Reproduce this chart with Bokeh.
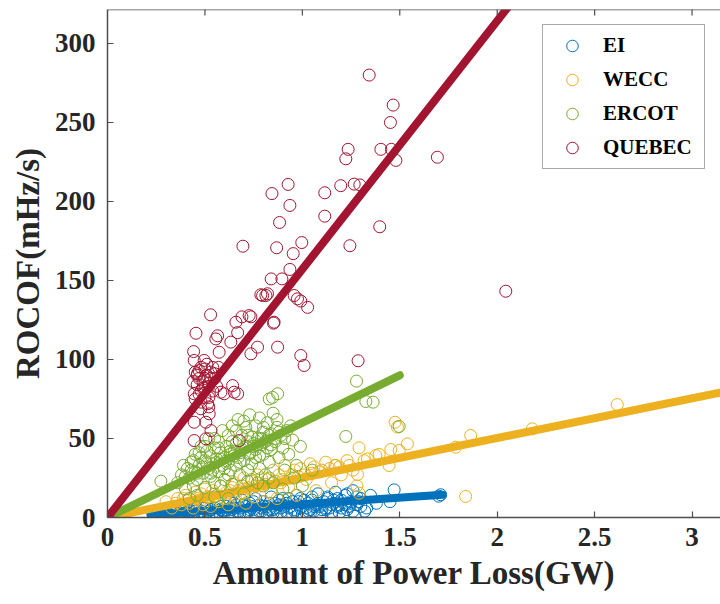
import math
from bokeh.plotting import figure
from bokeh.models import FixedTicker, Range1d, Legend, LegendItem, Span
from bokeh.embed import file_html
from bokeh.resources import INLINE

# ---------------- data ----------------
x_ticks = [0, 0.5, 1, 1.5, 2, 2.5, 3]
x_tick_labels = ["0", "0.5", "1", "1.5", "2", "2.5", "3"]
y_ticks = [0, 50, 100, 150, 200, 250, 300]
x_max = 3.146
y_max = 321.5

series_names = ["EI", "WECC", "ERCOT", "QUEBEC"]
series_colors = ["#0072BD", "#EDB120", "#77AC30", "#A2142F"]

ei_x = [0.25, 0.27, 0.29, 0.30, 0.32, 0.33, 0.35, 0.36, 0.38, 0.39, 0.40, 0.41, 0.43, 0.44, 0.45, 0.46,
        0.48, 0.49, 0.50, 0.51, 0.52, 0.54, 0.55, 0.56, 0.57, 0.58, 0.60, 0.61, 0.62, 0.63, 0.64, 0.66,
        0.67, 0.68, 0.69, 0.70, 0.71, 0.72, 0.73, 0.75, 0.76, 0.77, 0.78, 0.79, 0.80, 0.81, 0.82, 0.84,
        0.85, 0.86, 0.87, 0.88, 0.89, 0.90, 0.92, 0.93, 0.94, 0.95, 0.96, 0.97, 0.98, 1.00, 1.01, 1.02,
        1.03, 1.05, 1.06, 1.07, 1.08, 1.10, 1.11, 1.12, 1.13, 1.15, 1.16, 1.17, 1.18, 1.20, 1.21, 1.22,
        1.23, 1.25, 1.26, 1.27, 1.28, 1.30, 1.32, 1.38, 1.45, 1.471, 1.70, 1.71,
        0.31, 0.37, 0.42, 0.47, 0.53, 0.59, 0.65, 0.74, 0.83, 0.91, 0.99, 1.04, 1.09, 1.14, 1.19, 1.24,
        0.26, 0.28, 0.31, 0.34, 0.37, 0.40, 0.42, 0.45, 0.47, 0.50, 0.53, 0.55, 0.58, 0.60, 0.63, 0.65,
        0.68, 0.70, 0.73, 0.75, 0.78, 0.80, 0.83, 0.85, 0.88, 0.90, 0.93, 0.95, 0.98, 1.00, 1.03, 1.05,
        1.08, 1.10, 1.13, 1.15, 1.18, 1.20, 1.23, 1.25, 1.28, 1.30,
        0.33, 0.36, 0.39, 0.44, 0.48, 0.52, 0.57, 0.61, 0.64, 0.67, 0.71, 0.74, 0.79, 0.82, 0.86, 0.89,
        0.92, 0.96, 0.99, 1.02, 1.06, 1.09, 1.12, 1.16, 1.19, 1.22, 1.26, 1.29, 1.33, 1.35]
ei_y = [1, 3, 2, 4, 1, 3, 5, 2, 4, 1, 6, 3, 2, 5, 7, 1,
        4, 6, 2, 8, 4, 3, 6, 1, 9, 5, 3, 7, 2, 10, 5, 8,
        3, 6, 11, 1, 7, 4, 9, 5, 12, 2, 8, 6, 10, 3, 7, 13,
        5, 9, 1, 11, 6, 8, 3, 12, 7, 10, 4, 14, 8, 2, 11, 6,
        9, 13, 4, 8, 15, 1, 10, 6, 12, 3, 9, 16, 7, 11, 2, 14,
        5, 10, 17, 1, 8, 12, 4, 9, 10, 17.5, 13.5, 14.4,
        2, 3, 4, 3, 5, 4, 6, 6, 5, 7, 6, 5, 7, 6, 8, 7,
        2, 1, 3, 4, 2, 3, 5, 4, 2, 6, 5, 2, 7, 4, 6, 9,
        3, 8, 5, 10, 4, 7, 9, 3, 8, 12, 6, 2, 10, 7, 4, 11,
        9, 5, 13, 8, 12, 6, 15, 9, 13, 7,
        0.5, 1.5, 2.5, 1, 3, 1.5, 3.5, 5, 1, 4, 2.5, 7, 4, 1.5, 6, 3.5,
        9, 5, 12, 3, 7, 2, 5, 11, 3, 8, 4, 10, 6, 14]

wecc_x = [0.30, 0.33, 0.36, 0.38, 0.40, 0.42, 0.44, 0.45, 0.47, 0.49, 0.50, 0.52, 0.53, 0.55, 0.57, 0.58,
          0.60, 0.62, 0.63, 0.65, 0.66, 0.68, 0.70, 0.71, 0.73, 0.75, 0.77, 0.78, 0.80, 0.82, 0.84, 0.85,
          0.87, 0.89, 0.91, 0.93, 0.95, 0.97, 0.99, 1.02, 1.04, 1.07, 1.09, 1.12, 1.15, 1.17, 1.20, 1.23,
          1.26, 1.28, 1.476, 1.488, 1.864, 1.787, 1.539, 1.291, 1.454, 1.497, 1.394, 1.334, 1.445, 1.167,
          1.283, 1.291, 1.838, 2.616, 2.18, 1.377, 1.317,
          0.35, 0.41, 0.46, 0.51, 0.56, 0.61, 0.67, 0.72, 0.76, 0.81, 0.86, 0.90, 0.94, 0.98, 1.01, 1.05,
          1.10, 1.14, 1.19, 1.24, 0.39, 0.48, 0.54, 0.64, 0.69, 0.74, 0.79, 0.88, 0.96, 1.06]
wecc_y = [10, 6, 12, 8, 14, 9, 6, 16, 11, 8, 18, 13, 7, 15, 10, 20,
          12, 8, 17, 22, 11, 15, 25, 9, 18, 13, 27, 20, 10, 24, 16, 30,
          12, 22, 33, 19, 27, 14, 31, 24, 34, 17, 29, 35, 22, 33, 27, 36,
          30, 20, 60.3, 57.2, 51.9, 44.5, 46.6, 44.1, 43.0, 42.4, 39.9, 37.1, 32.9, 32.9,
          27.2, 15.4, 13.3, 71.5, 56.1, 39.2, 36.0,
          9, 11, 12, 13, 14, 16, 17, 19, 20, 21, 23, 24, 25, 26, 27, 28,
          30, 31, 32, 33, 12, 15, 17, 19, 20, 23, 25, 27, 30, 32]

ercot_x = [0.36, 0.38, 0.40, 0.41, 0.42, 0.43, 0.44, 0.45, 0.45, 0.39,
           0.46, 0.47, 0.48, 0.48, 0.49, 0.50, 0.50, 0.51, 0.52, 0.52, 0.53, 0.53, 0.54, 0.55, 0.55,
           0.56, 0.57, 0.57, 0.58, 0.59, 0.59, 0.60, 0.60, 0.61, 0.62, 0.62, 0.63, 0.63, 0.64, 0.64, 0.65,
           0.66, 0.66, 0.67, 0.68, 0.68, 0.69, 0.70, 0.70, 0.71, 0.72, 0.72, 0.73, 0.73, 0.74, 0.74, 0.75,
           0.76, 0.76, 0.77, 0.78, 0.78, 0.79, 0.80, 0.80, 0.81, 0.82, 0.82, 0.83, 0.84, 0.84, 0.85, 0.85,
           0.86, 0.87, 0.88, 0.89, 0.90, 0.91, 0.92, 0.93, 0.95, 0.97, 0.99, 0.96,
           0.274, 0.83, 0.873, 0.847, 1.278, 1.326, 1.363, 1.497, 1.223,
           0.58, 0.72, 0.77, 0.83, 0.80, 0.42, 0.46, 1.00, 1.05, 0.62, 0.70, 0.55, 0.90,
           0.40, 0.43, 0.46, 0.49, 0.51, 0.54, 0.56, 0.58, 0.61, 0.63, 0.65, 0.67, 0.69, 0.71, 0.73, 0.75,
           0.77, 0.79, 0.81, 0.83, 0.86, 0.88, 0.44, 0.47, 0.53, 0.57, 0.60, 0.64, 0.68, 0.72, 0.76, 0.80,
           0.84, 0.87, 0.91, 0.94, 0.50, 0.55, 0.62, 0.66, 0.70, 0.74, 0.78, 0.82]
ercot_y = [22, 27, 18, 31, 25, 35, 20, 29, 40, 33,
           24, 33, 38, 45, 28, 36, 19, 42, 31, 50, 26, 39, 34, 44, 22,
           37, 29, 48, 41, 33, 55, 38, 24, 45, 35, 52, 30, 42, 58, 21, 39,
           47, 33, 62, 41, 27, 52, 44, 36, 57, 30, 48, 40, 65, 51, 24, 45,
           38, 58, 50, 31, 63, 46, 54, 40, 27, 49, 60, 35, 53, 43, 66, 22,
           48, 57, 38, 52, 44, 30, 55, 40, 49, 33, 45, 25,
           23, 75, 78.3, 76, 86.3, 73.4, 73, 57.6, 51.3,
           20, 23, 22, 25, 20, 12, 14, 20, 30, 12, 15, 13, 18,
           26, 30, 28, 32, 34, 30, 35, 37, 36, 40, 42, 38, 43, 45, 41, 47,
           46, 50, 48, 52, 50, 54, 36, 41, 28, 44, 31, 48, 35, 52, 43, 57,
           46, 62, 50, 58, 45, 50, 27, 55, 61, 34, 39, 44]

quebec_x = [1.343, 1.466, 1.452, 1.693, 1.403, 1.457, 1.48, 1.235, 1.223, 1.197, 1.266, 1.295, 1.115, 1.115,
            1.397, 1.244, 0.927, 0.844, 0.936, 0.883, 0.695, 0.868, 0.997, 0.953, 0.936, 0.84, 0.895,
            0.796, 0.813, 0.958, 0.992, 1.027, 0.529, 0.69, 0.736, 0.852, 0.454, 0.565, 0.668, 2.044,
            1.286, 0.787, 0.821, 0.975, 1.009, 0.992, 0.727, 0.659, 0.855, 0.556, 0.633, 0.77, 0.873,
            0.736, 0.442, 0.573, 0.445, 0.496, 0.462,
            0.47, 0.49, 0.51, 0.53, 0.46, 0.50, 0.52, 0.55, 0.48, 0.44, 0.50, 0.54, 0.47, 0.52, 0.56, 0.45,
            0.642, 0.599, 0.668, 0.445, 0.514, 0.479, 0.522, 0.445, 0.505, 0.531, 0.445, 0.505, 0.676,
            0.582, 0.65, 0.0,
            0.46, 0.48, 0.50, 0.52, 0.54, 0.47, 0.49, 0.51, 0.53, 0.45, 0.55, 0.50, 0.48, 0.52, 0.57]
quebec_y = [280, 261, 250, 228, 233, 233, 226, 233, 227, 210, 211, 210.5, 205.5, 190.7,
            184, 172, 210.8, 205, 197.5, 186.7, 171.7, 170.7, 174, 167, 157, 151, 151,
            140.5, 140.5, 140.5, 137, 133, 128.3, 127, 127, 123, 116.6, 115, 117, 143.2,
            99.2, 141, 141.6, 138.4, 96.2, 102.5, 127.8, 123.6, 123.6, 113, 111, 107.8, 107.8,
            103.6, 105, 104.6, 99.4, 99.4, 91,
            88, 86, 90, 92, 84, 82, 85, 88, 80, 86, 94, 80, 93, 76, 83, 75,
            83.5, 78.3, 78.3, 78.3, 72, 68.8, 65.6, 60.3, 60.3, 55, 48.7, 49.8, 48.7,
            79.3, 79.3, 0.0,
            90, 95, 88, 83, 95, 78, 82, 97, 88, 92, 91, 76, 73, 70, 95]

# fitted lines (end points)
ei_fit_x = [0.22, 1.72]
ei_fit_y = [1.85, 14.4]
wecc_fit_x = [0.0, 3.3]
wecc_fit_y = [0.0, 83.0]
ercot_fit_x = [0.0, 1.5]
ercot_fit_y = [0.0, 90.0]
quebec_fit_x = [0.0, 2.1]
quebec_fit_y = [0.0, 330.0]

# ---------------- figure ----------------
FONT = "Liberation Serif"
TXT = "#262626"
AX = "#4d4d4d"

p = figure(width=720, height=604, output_backend="svg", toolbar_location=None,
           x_range=Range1d(0, x_max), y_range=Range1d(0, y_max),
           min_border_left=107, min_border_right=0, min_border_top=9, min_border_bottom=87)
p.outline_line_color = None
p.xgrid.visible = False
p.ygrid.visible = False
p.background_fill_color = "white"
p.border_fill_color = "white"

xs = [ei_x, wecc_x, ercot_x, quebec_x]
ys = [ei_y, wecc_y, ercot_y, quebec_y]
fxs = [ei_fit_x, wecc_fit_x, ercot_fit_x, quebec_fit_x]
fys = [ei_fit_y, wecc_fit_y, ercot_fit_y, quebec_fit_y]

items = []
for name, col, x, y, fx, fy in zip(series_names, series_colors, xs, ys, fxs, fys):
    r = p.scatter(x, y, marker="circle", size=12, fill_color=None, line_color=col, line_width=1)
    p.line(fx, fy, line_color=col, line_width=8, line_cap="round")
    items.append(LegendItem(label=name, renderers=[r]))

# top box edge with inward ticks (no labels)
p.add_layout(Span(location=y_max, dimension="width", line_color=AX, line_width=1.5))
p.scatter(x_ticks[1:], [y_max] * (len(x_ticks) - 1), marker="dash", angle=math.pi / 2,
          size=12, line_color=AX, line_width=1.2)

# axes
for ax in (p.xaxis[0], p.yaxis[0]):
    ax.axis_line_color = AX
    ax.axis_line_width = 1.5
    ax.major_tick_line_color = AX
    ax.major_tick_line_width = 1.2
    ax.major_tick_in = 6
    ax.major_tick_out = 0
    ax.minor_tick_line_color = None
    ax.major_label_text_font = FONT
    ax.major_label_text_font_style = "bold"
    ax.major_label_text_font_size = "27px"
    ax.major_label_text_color = TXT
    ax.axis_label_text_font = FONT
    ax.axis_label_text_font_style = "bold"
    ax.axis_label_text_font_size = "33px"
    ax.axis_label_text_color = TXT

p.xaxis[0].ticker = FixedTicker(ticks=x_ticks)
p.xaxis[0].major_label_overrides = {t: l for t, l in zip(x_ticks, x_tick_labels)}
p.xaxis[0].axis_label = "Amount of Power Loss(GW)"
p.xaxis[0].major_label_standoff = 10
p.xaxis[0].axis_label_standoff = 6

p.yaxis[0].ticker = FixedTicker(ticks=y_ticks)
p.yaxis[0].axis_label = "ROCOF(mHz/s)"
p.yaxis[0].major_label_standoff = 12
p.yaxis[0].axis_label_standoff = 6

legend = Legend(items=items, location="top_right")
legend.margin = 15
legend.padding = 6
legend.spacing = 5
legend.glyph_height = 29
legend.glyph_width = 46
legend.label_height = 29
legend.label_width = 95
legend.label_standoff = 8
legend.label_text_font = FONT
legend.label_text_font_style = "bold"
legend.label_text_font_size = "21px"
legend.label_text_color = "black"
legend.border_line_color = "#555555"
legend.border_line_width = 1.2
legend.background_fill_color = "white"
legend.background_fill_alpha = 1.0
p.add_layout(legend, "center")

open("out.html", "w").write(file_html(p, INLINE))
